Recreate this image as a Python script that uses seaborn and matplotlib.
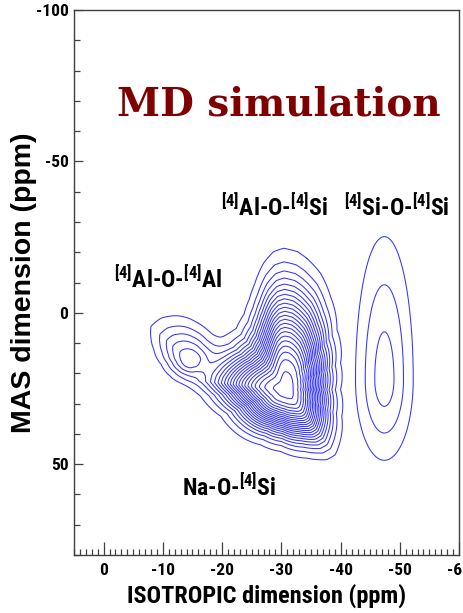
import numpy as np
import matplotlib
matplotlib.use("Agg")
import matplotlib.pyplot as plt
from matplotlib.ticker import MultipleLocator, FixedLocator, FixedFormatter
import seaborn as sns

# ---- spectrum description (ppm) -------------------------------------------
# [4]Al-O-[4]Si site: outer (lowest) contour, position and height of maximum
alsi_center = (-30.8, 25.4)
alsi_height = 22.4
alsi_outline_iso = [-30.4, -32.7, -34.3, -36.6, -38.3, -39.4, -40.0, -40.0, -40.2, -40.0,
                    -39.1, -37.7, -34.3, -29.9, -26.5, -23.1, -19.8, -16.4, -13.8, -14.3,
                    -15.6, -17.6, -20.2, -22.4, -23.7, -24.6, -25.5, -27.0, -28.7]
alsi_outline_mas = [-21.3, -20.2, -18.0, -13.1, -5.4, 5.6, 16.6, 25.4, 34.2, 41.9,
                    46.9, 48.5, 48.0, 45.8, 43.6, 40.8, 34.2, 27.6, 22.0, 19.0,
                    15.5, 12.0, 8.8, 5.2, 0.5, -4.5, -9.5, -16.4, -20.2]

# [4]Al-O-[4]Al site
alal_center = (-14.4, 15.5)
alal_height = 5.3
alal_outline_iso = [-12.5, -9.7, -8.0, -8.0, -8.5, -9.8, -11.5, -13.5, -16.0, -18.0,
                    -18.8, -18.0, -15.5]
alal_outline_mas = [1.0, 1.8, 4.5, 8.5, 12.2, 17.0, 20.5, 22.0, 21.0, 17.5,
                    13.0, 8.0, 3.0]

# [4]Si-O-[4]Si site (Gaussian, wider towards negative MAS shifts)
sisi_center = (-47.4, 22.0)
sisi_height = 3.44
sisi_width_iso = 3.1
sisi_width_mas_up = 30.0
sisi_width_mas_down = 17.0

contour_levels = list(range(1, 23))

x_ticks = [0, -10, -20, -30, -40, -50, -60]
x_tick_labels = ["0", "-10", "-20", "-30", "-40", "-50", "-60"]
y_ticks = [-100, -50, 0, 50]
y_tick_labels = ["-100", "-50", "0", "50"]

site_labels = [r"$^{[4]}$Al-O-$^{[4]}$Si", r"$^{[4]}$Si-O-$^{[4]}$Si",
               r"$^{[4]}$Al-O-$^{[4]}$Al", r"Na-O-$^{[4]}$Si"]
site_label_pos = [(-19.8, -32.0), (-40.6, -32.0), (-1.7, -8.3), (-13.3, 60.6)]

# ---- intensity map ---------------------------------------------------------
PX_RATIO = 3.03 / 5.94   # MAS ppm -> isotropic ppm, so shapes interpolate evenly


def outline_site(X, Y, center, ox, oy, height, power):
    """Peak whose contours are scaled copies of its lowest contour."""
    cx, cy = center
    ox, oy = np.asarray(ox), np.asarray(oy)
    ang = np.arctan2((oy - cy) * PX_RATIO, ox - cx)
    rad = np.hypot((oy - cy) * PX_RATIO, ox - cx)
    order = np.argsort(ang)
    ang, rad = ang[order], rad[order]
    ang = np.concatenate([ang - 2 * np.pi, ang, ang + 2 * np.pi])
    rad = np.tile(rad, 3)
    A = np.arctan2((Y - cy) * PX_RATIO, X - cx)
    R = np.hypot((Y - cy) * PX_RATIO, X - cx)
    return height ** (1 - (R / np.interp(A, ang, rad)) ** power)


iso = np.linspace(5, -60, 651)
mas = np.linspace(-100, 80, 901)
X, Y = np.meshgrid(iso, mas)

Z_al = (outline_site(X, Y, alsi_center, alsi_outline_iso, alsi_outline_mas, alsi_height, 2.5)
        + outline_site(X, Y, alal_center, alal_outline_iso, alal_outline_mas, alal_height, 2.0))
dy = Y - sisi_center[1]
Z_si = sisi_height * np.exp(-0.5 * (((X - sisi_center[0]) / sisi_width_iso) ** 2
                                    + (dy / np.where(dy < 0, sisi_width_mas_up,
                                                     sisi_width_mas_down)) ** 2))
Z = np.maximum(Z_al, Z_si)

# ---- figure ----------------------------------------------------------------
sns.set_theme(style="white")
plt.rcParams["font.family"] = ["Roboto Condensed", "DejaVu Sans"]
plt.rcParams["mathtext.default"] = "regular"

fig = plt.figure(figsize=(4.64, 6.13), dpi=100)
ax = fig.add_axes([74 / 464, 1 - 555 / 613, (459 - 74) / 464, (555 - 10) / 613])

ax.contour(X, Y, Z, levels=contour_levels, colors="#3333ff", linewidths=0.75)

ax.set_xlim(5, -60)
ax.set_ylim(80, -100)

ax.xaxis.set_major_locator(FixedLocator(x_ticks))
ax.xaxis.set_major_formatter(FixedFormatter(x_tick_labels))
ax.yaxis.set_major_locator(FixedLocator(y_ticks))
ax.yaxis.set_major_formatter(FixedFormatter(y_tick_labels))
ax.xaxis.set_minor_locator(MultipleLocator(1))
ax.yaxis.set_minor_locator(MultipleLocator(10))

ax.tick_params(which="both", direction="in", top=False, right=False,
               bottom=True, left=True, color="#404040", width=0.9)
ax.tick_params(axis="x", which="major", length=9.4, pad=6, labelsize=12.5)
ax.tick_params(axis="x", which="minor", length=4.2)
ax.tick_params(axis="y", which="major", length=6.6, pad=4, labelsize=12.5)
ax.tick_params(axis="y", which="minor", length=4.3)
for lab in ax.get_xticklabels() + ax.get_yticklabels():
    lab.set_fontweight("bold")
    lab.set_color("black")

for sp in ax.spines.values():
    sp.set_visible(True)
    sp.set_color("#404040")
    sp.set_linewidth(1.0)

ax.set_xlabel("ISOTROPIC dimension (ppm)", fontsize=17.5, fontweight="bold", color="black")
ax.xaxis.set_label_coords(0.5, -0.053)
ax.set_ylabel("MAS dimension (ppm)", fontsize=20.5, fontweight="bold", color="black",
              family=["Liberation Sans", "DejaVu Sans"])
ax.yaxis.set_label_coords(-0.096, 0.5)

for text, (tx, ty) in zip(site_labels, site_label_pos):
    ax.text(tx, ty, text, fontsize=17, fontweight="bold", color="black",
            ha="left", va="baseline")

ax.text(-2.2, -65, "MD simulation", fontsize=28, fontweight="bold", color="#800000",
        family=["DejaVu Serif"], ha="left", va="baseline")

fig.savefig("out.png", dpi=100)
